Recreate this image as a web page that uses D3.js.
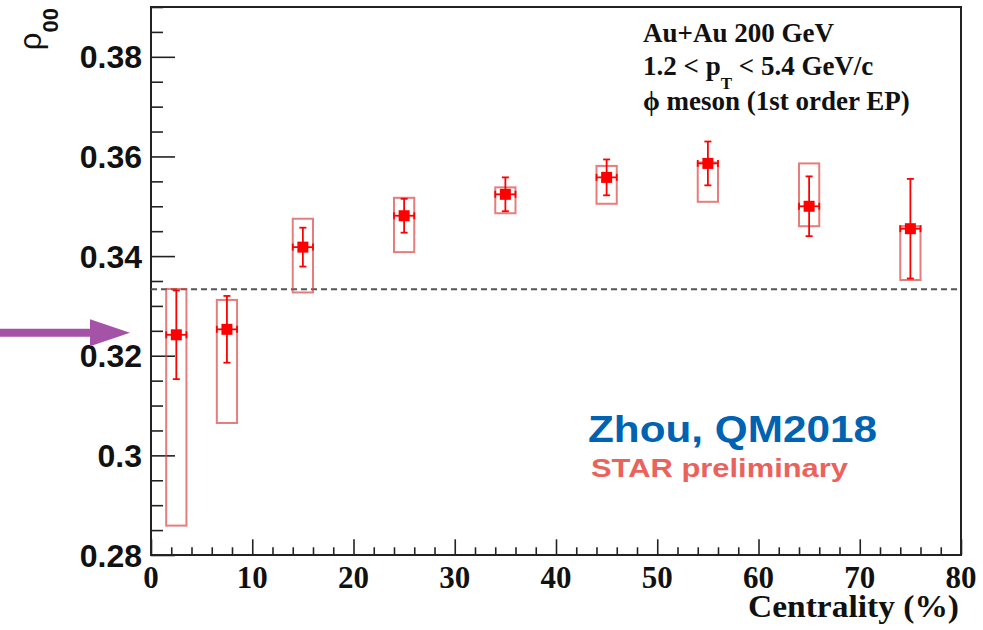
<!DOCTYPE html>
<html>
<head>
<meta charset="utf-8">
<script src="https://cdn.jsdelivr.net/npm/d3@7"></script>
<style>
  html, body { margin: 0; padding: 0; background: #fff; }
  svg { display: block; }
</style>
</head>
<body>
<svg id="chart" width="983" height="630"></svg>
<script>
// Centrality bins (%) and measured rho_00 of the phi meson
const centrality = [2.5, 7.5, 15, 25, 35, 45, 55, 65, 75];
const rho00 = [0.3242, 0.3253, 0.3418, 0.3481, 0.3524, 0.3558, 0.3586, 0.3500, 0.3455];
// statistical errors (symmetric)
const statErr = [0.0089, 0.0067, 0.0039, 0.0034, 0.0034, 0.0036, 0.0044, 0.0060, 0.0100];
// systematic errors (upper / lower)
const sysUp = [0.0092, 0.0059, 0.0057, 0.0036, 0.0014, 0.0023, 0.0002, 0.0086, 0.0005];
const sysDown = [0.0383, 0.0188, 0.0091, 0.0073, 0.0038, 0.0053, 0.0077, 0.0040, 0.0103];
// half bin width in centrality
const binHalf = [1, 1, 1, 1, 1, 1, 1, 1, 1];
// reference value for no spin alignment
const rhoRef = 1 / 3;

const yTickValues = [0.28, 0.30, 0.32, 0.34, 0.36, 0.38];
const yTickLabels = ["0.28", "0.3", "0.32", "0.34", "0.36", "0.38"];
const xTickValues = [0, 10, 20, 30, 40, 50, 60, 70, 80];
const xTickLabels = ["0", "10", "20", "30", "40", "50", "60", "70", "80"];

const svg = d3.select("#chart");
svg.append("rect").attr("width", 983).attr("height", 630).attr("fill", "#fff");

const x = d3.scaleLinear().domain([0, 80]).range([151, 961]);
const y = d3.scaleLinear().domain([0.28, 0.39]).range([555, 7]);

const frameColor = "#222";

// y axis: major ticks every 0.02, minor every 0.005
const yAxis = d3.axisRight(y)
  .tickValues(yTickValues)
  .tickSize(24)
  .tickFormat("");
const yg = svg.append("g").attr("transform", `translate(${x(0)},0)`).call(yAxis);
yg.select(".domain").remove();
yg.selectAll("line").attr("stroke", frameColor).attr("stroke-width", 1.6);

const yMinor = d3.range(0.28, 0.3901, 0.005).filter(v => Math.abs(v / 0.02 - Math.round(v / 0.02)) > 1e-6);
const yAxisMinor = d3.axisRight(y).tickValues(yMinor).tickSize(12).tickFormat("");
const ygm = svg.append("g").attr("transform", `translate(${x(0)},0)`).call(yAxisMinor);
ygm.select(".domain").remove();
ygm.selectAll("line").attr("stroke", frameColor).attr("stroke-width", 1.6);

// y tick labels
svg.append("g").selectAll("text")
  .data(yTickValues)
  .join("text")
  .attr("x", 142)
  .attr("y", d => y(d))
  .attr("dy", "0.36em")
  .attr("text-anchor", "end")
  .attr("font-family", "Liberation Sans, Arial, sans-serif")
  .attr("font-weight", "bold")
  .attr("font-size", 32)
  .attr("fill", "#111")
  .text((d, i) => yTickLabels[i]);

// x axis: major ticks every 10, minor every 2
const xAxis = d3.axisTop(x).tickValues(xTickValues).tickSize(15.7).tickFormat("");
const xg = svg.append("g").attr("transform", `translate(0,${y(0.28)})`).call(xAxis);
xg.select(".domain").remove();
xg.selectAll("line").attr("stroke", frameColor).attr("stroke-width", 1.6);

const xMinor = d3.range(2, 80, 2).filter(v => v % 10 !== 0);
const xAxisMinor = d3.axisTop(x).tickValues(xMinor).tickSize(7.7).tickFormat("");
const xgm = svg.append("g").attr("transform", `translate(0,${y(0.28)})`).call(xAxisMinor);
xgm.select(".domain").remove();
xgm.selectAll("line").attr("stroke", frameColor).attr("stroke-width", 1.6);

svg.append("g").selectAll("text")
  .data(xTickValues)
  .join("text")
  .attr("x", d => x(d))
  .attr("y", 588)
  .attr("text-anchor", "middle")
  .attr("font-family", "Liberation Serif, Times New Roman, serif")
  .attr("font-weight", "bold")
  .attr("font-size", 31)
  .attr("fill", "#111")
  .text((d, i) => xTickLabels[i]);

// frame
svg.append("rect")
  .attr("x", x(0)).attr("y", y(0.39))
  .attr("width", x(80) - x(0)).attr("height", y(0.28) - y(0.39))
  .attr("fill", "none").attr("stroke", frameColor).attr("stroke-width", 2);

// axis titles
svg.append("text")
  .attr("x", 959).attr("y", 617)
  .attr("text-anchor", "end")
  .attr("font-family", "Liberation Serif, Times New Roman, serif")
  .attr("font-weight", "bold")
  .attr("font-size", 32)
  .attr("fill", "#111")
  .attr("textLength", 211)
  .attr("lengthAdjust", "spacingAndGlyphs")
  .text("Centrality (%)");

const yTitle = svg.append("text")
  .attr("transform", "translate(41,8) rotate(-90)")
  .attr("text-anchor", "end")
  .attr("font-family", "Liberation Sans, Arial, sans-serif")
  .attr("fill", "#111");
yTitle.append("tspan").attr("font-size", 31).text("ρ");
yTitle.append("tspan").attr("font-size", 22).attr("font-weight", "bold").attr("dy", 17).text("00");

// reference line at 1/3
svg.append("line")
  .attr("x1", x(0)).attr("x2", x(80) - 3)
  .attr("y1", y(rhoRef)).attr("y2", y(rhoRef))
  .attr("stroke", "#555").attr("stroke-width", 2)
  .attr("stroke-dasharray", "6,4");

const pts = centrality.map((c, i) => ({
  c, v: rho00[i], se: statErr[i], su: sysUp[i], sd: sysDown[i], hw: binHalf[i]
}));

// systematic boxes
svg.append("g").selectAll("rect")
  .data(pts)
  .join("rect")
  .attr("x", d => x(d.c - d.hw))
  .attr("width", d => x(d.c + d.hw) - x(d.c - d.hw))
  .attr("y", d => y(d.v + d.su))
  .attr("height", d => y(d.v - d.sd) - y(d.v + d.su))
  .attr("fill", "none")
  .attr("stroke", "rgb(220,70,70)")
  .attr("stroke-opacity", 0.7)
  .attr("stroke-width", 2);

// statistical error bars
const red = "#ff0000";
const eg = svg.append("g").attr("stroke", red).attr("stroke-width", 1.8);
pts.forEach(d => {
  const cx = x(d.c), cy = y(d.v);
  const top = y(d.v + d.se), bot = y(d.v - d.se);
  const l = x(d.c - d.hw), r = x(d.c + d.hw);
  eg.append("line").attr("x1", cx).attr("x2", cx).attr("y1", top).attr("y2", bot);
  eg.append("line").attr("x1", cx - 3.5).attr("x2", cx + 3.5).attr("y1", top).attr("y2", top);
  eg.append("line").attr("x1", cx - 3.5).attr("x2", cx + 3.5).attr("y1", bot).attr("y2", bot);
  eg.append("line").attr("x1", l).attr("x2", r).attr("y1", cy).attr("y2", cy);
  eg.append("line").attr("x1", l).attr("x2", l).attr("y1", cy - 3.5).attr("y2", cy + 3.5);
  eg.append("line").attr("x1", r).attr("x2", r).attr("y1", cy - 3.5).attr("y2", cy + 3.5);
});

// markers
svg.append("g").selectAll("rect")
  .data(pts)
  .join("rect")
  .attr("x", d => x(d.c) - 5.5)
  .attr("y", d => y(d.v) - 5.5)
  .attr("width", 11).attr("height", 11)
  .attr("fill", red);

// legend text
const leg = svg.append("g")
  .attr("font-family", "Liberation Serif, Times New Roman, serif")
  .attr("font-weight", "bold")
  .attr("font-size", 27)
  .attr("fill", "#111");
leg.append("text").attr("x", 643).attr("y", 42).text("Au+Au 200 GeV");
const l2 = leg.append("text").attr("x", 643).attr("y", 75);
l2.append("tspan").text("1.2 < p");
l2.append("tspan").attr("font-size", 17).attr("dy", 14).text("T");
l2.append("tspan").attr("dy", -14).text(" < 5.4 GeV/c");
leg.append("text").attr("x", 643).attr("y", 110).text("ϕ meson (1st order EP)");

// annotation labels
svg.append("text")
  .attr("x", 588).attr("y", 442)
  .attr("font-family", "Liberation Sans, Arial, sans-serif")
  .attr("font-weight", "bold")
  .attr("font-size", 37)
  .attr("fill", "#0063b1")
  .attr("textLength", 289)
  .attr("lengthAdjust", "spacingAndGlyphs")
  .text("Zhou, QM2018");
svg.append("text")
  .attr("x", 591).attr("y", 477)
  .attr("font-family", "Liberation Sans, Arial, sans-serif")
  .attr("font-weight", "bold")
  .attr("font-size", 25)
  .attr("fill", "#ea625c")
  .attr("textLength", 257)
  .attr("lengthAdjust", "spacingAndGlyphs")
  .text("STAR preliminary");

// arrow pointing at the reference region
const arrowY = y(0.3246);
svg.append("line")
  .attr("x1", 0).attr("x2", 92)
  .attr("y1", arrowY).attr("y2", arrowY)
  .attr("stroke", "#a553a6").attr("stroke-width", 8);
svg.append("path")
  .attr("d", `M90,${arrowY - 13.5} L130,${arrowY} L90,${arrowY + 13.5} Z`)
  .attr("fill", "#a553a6");
</script>
</body>
</html>
